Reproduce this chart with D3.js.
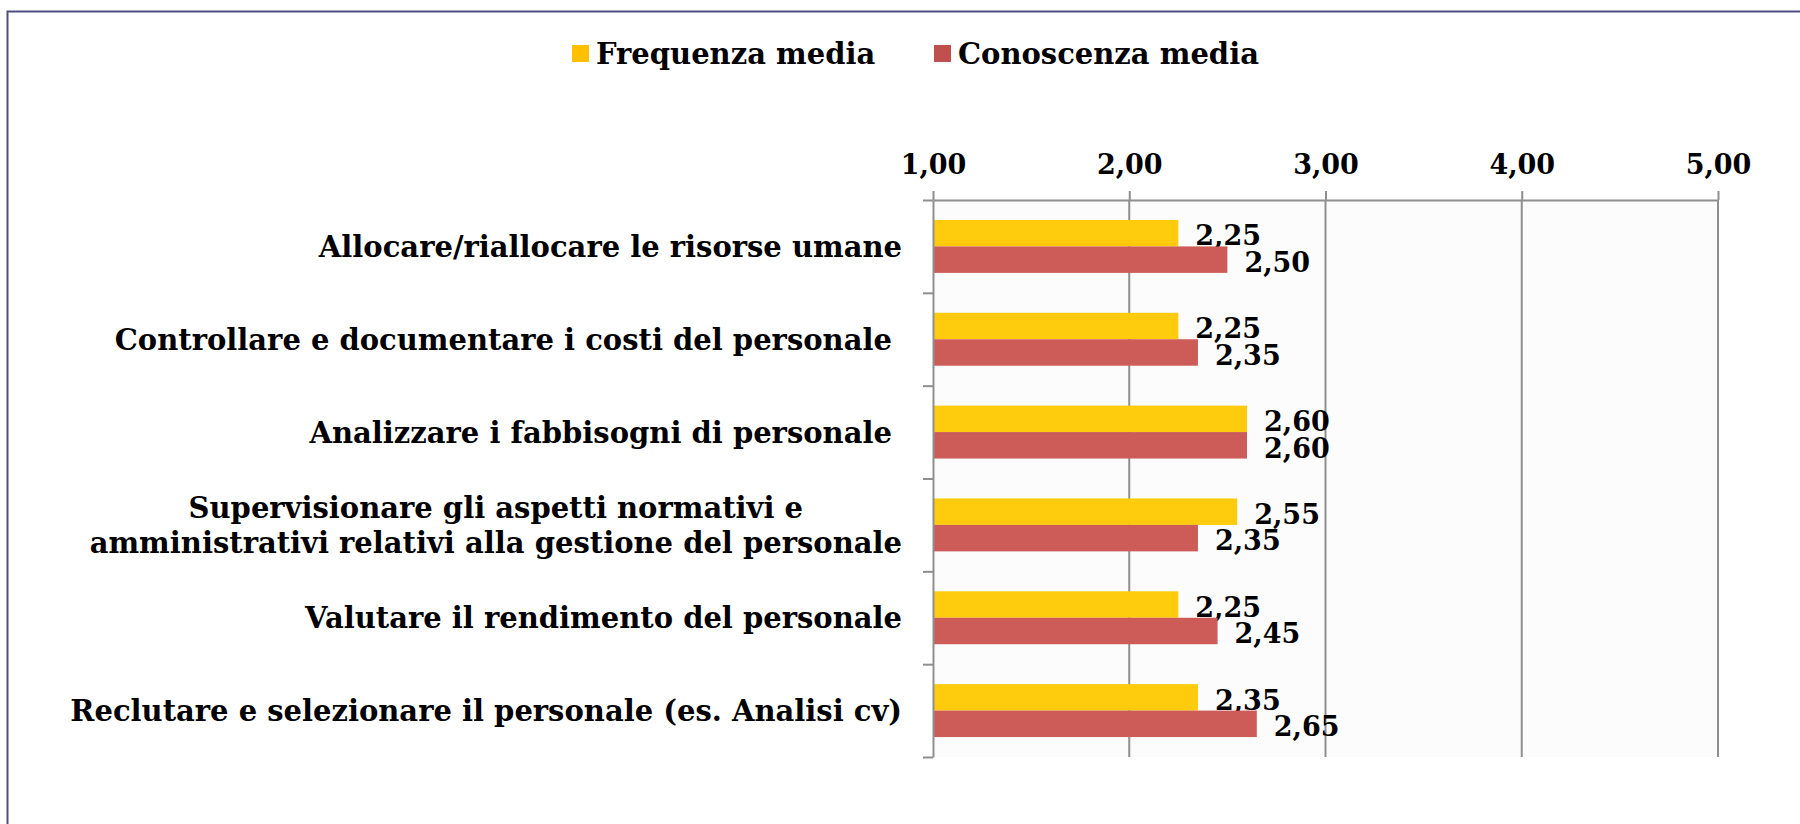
<!DOCTYPE html>
<html lang="it">
<head>
  <meta charset="utf-8">
  <title>Frequenza e conoscenza media</title>
  <script src="https://d3js.org/d3.v7.min.js"></script>
</head>
<style>
  body { margin: 0; background: #fff; }
  svg text { font-family: "DejaVu Serif", Georgia, serif; font-weight: bold; fill: #000; }
</style>
<body>
  <div class="chart"></div>
</body>
<script>
// data
var categories = [
  "Allocare/riallocare le risorse umane",
  "Controllare e documentare i costi del personale ",
  "Analizzare i fabbisogni di personale ",
  "Supervisionare gli aspetti normativi e\namministrativi relativi alla gestione del personale",
  "Valutare il rendimento del personale",
  "Reclutare e selezionare il personale (es. Analisi cv)"
];
var seriesNames = ["Frequenza media", "Conoscenza media"];
var frequenza = [2.25, 2.25, 2.60, 2.55, 2.25, 2.35];
var conoscenza = [2.50, 2.35, 2.60, 2.35, 2.45, 2.65];
var xTicks = [1, 2, 3, 4, 5];

var colors = ["#FFCB0C", "#CD5B57"];
var legendColors = ["#FFC000", "#C0504D"];
var axisColor = "#8f8f8f";

var W = 1800, H = 824;
var plot = {left: 933, right: 1718, top: 200, bottom: 757};

var it = d3.formatLocale({decimal: ",", thousands: ".", grouping: [3], currency: ["", "€"]});
var fmt = it.format(".2f");

var svg = d3.select(".chart").append("svg")
  .attr("width", W)
  .attr("height", H);

// outer frame (only top and left edges are inside the picture)
svg.append("rect")
  .attr("x", 7.5).attr("y", 11.5)
  .attr("width", W + 20).attr("height", H + 20)
  .attr("fill", "#fff")
  .attr("stroke", "#4e4e7e")
  .attr("stroke-width", 2);

var x = d3.scaleLinear().domain([1, 5]).range([plot.left, plot.right]);
var y = d3.scaleBand().domain(d3.range(categories.length))
  .range([plot.top, plot.bottom])
  .paddingInner(0.43).paddingOuter(0.215);
var ySub = d3.scaleBand().domain([0, 1]).range([0, y.bandwidth()]);
var yEdge = d3.scaleLinear().domain([0, categories.length]).range([plot.top, plot.bottom]);

// plot area
svg.append("rect")
  .attr("x", plot.left).attr("y", plot.top)
  .attr("width", plot.right - plot.left).attr("height", plot.bottom - plot.top)
  .attr("fill", "#fcfcfc");

// gridlines
svg.selectAll(".grid")
  .data(xTicks.slice(1))
  .enter().append("line")
  .attr("class", "grid")
  .attr("x1", function(d){ return x(d); })
  .attr("x2", function(d){ return x(d); })
  .attr("y1", plot.top).attr("y2", plot.bottom)
  .attr("stroke", axisColor)
  .attr("stroke-width", 2);

// bars
var series = [frequenza, conoscenza];
var groups = svg.selectAll(".serie")
  .data(series)
  .enter().append("g")
  .attr("class", "serie");

groups.selectAll("rect")
  .data(function(s, si){ return s.map(function(v, i){ return {v: v, i: i, s: si}; }); })
  .enter().append("rect")
  .attr("x", x(1))
  .attr("y", function(d){ return y(d.i) + ySub(d.s); })
  .attr("width", function(d){ return x(d.v) - x(1); })
  .attr("height", ySub.bandwidth())
  .attr("fill", function(d){ return colors[d.s]; });

// value labels
groups.selectAll("text")
  .data(function(s, si){ return s.map(function(v, i){ return {v: v, i: i, s: si}; }); })
  .enter().append("text")
  .attr("x", function(d){ return x(d.v) + 17; })
  .attr("y", function(d){ return y(d.i) + ySub(d.s) + ySub.bandwidth() - 1; })
  .style("font-size", "27px")
  .text(function(d){ return fmt(d.v); });

// top axis
var xAxis = svg.append("g")
  .attr("transform", "translate(0," + plot.top + ")")
  .call(d3.axisTop(x).tickValues(xTicks).tickSize(9).tickSizeOuter(0).tickPadding(17).tickFormat(fmt));
xAxis.selectAll("path, line").attr("stroke", axisColor).attr("stroke-width", 2);
xAxis.selectAll("text").style("font-size", "27px").attr("fill", "#000");

// left axis with ticks between categories
var yAxis = svg.append("g")
  .attr("transform", "translate(" + plot.left + ",0)")
  .call(d3.axisLeft(yEdge).tickValues(d3.range(categories.length + 1)).tickSize(10).tickSizeOuter(0).tickFormat(""));
yAxis.selectAll("path, line").attr("stroke", axisColor).attr("stroke-width", 2);

// category labels
var labelRight = 902;
var lineH = 35;
categories.forEach(function(c, i){
  var lines = c.split("\n");
  var cy = y(i) + y.bandwidth() / 2;
  var t = svg.append("text")
    .style("font-size", "29px")
    .style("white-space", "pre")
    .attr("text-anchor", "middle");
  var spans = t.selectAll("tspan").data(lines).enter().append("tspan")
    .attr("dy", function(d, k){ return k === 0 ? 0 : lineH; })
    .text(function(d){ return d; });
  var maxW = 0;
  spans.each(function(){ maxW = Math.max(maxW, this.getComputedTextLength()); });
  var firstBase = cy + 10.5 - (lines.length - 1) * lineH / 2;
  spans.attr("x", labelRight - maxW / 2);
  t.attr("y", firstBase);
  spans.filter(function(d, k){ return k === 0; }).attr("y", firstBase);
});

// legend
var legendX = [572, 934];
var legend = svg.selectAll(".legend")
  .data(seriesNames)
  .enter().append("g")
  .attr("class", "legend")
  .attr("transform", function(d, i){ return "translate(" + legendX[i] + ",45)"; });
legend.append("rect")
  .attr("width", 17).attr("height", 17)
  .attr("fill", function(d, i){ return legendColors[i]; });
legend.append("text")
  .attr("x", 24).attr("y", 19)
  .style("font-size", "29px")
  .text(function(d){ return d; });
</script>
</html>
